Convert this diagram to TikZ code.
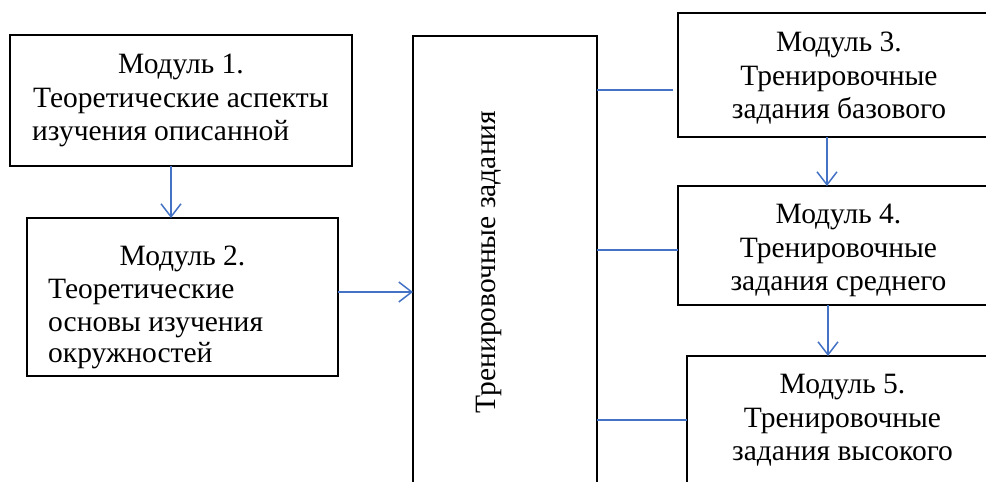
\documentclass[tikz,border=0pt]{standalone}
\usepackage{fontspec}
\setmainfont{Liberation Serif}
\usetikzlibrary{arrows.meta}
\definecolor{lnblue}{RGB}{68,114,196}
\begin{document}
\begin{tikzpicture}[x=1pt,y=-1pt,
  box/.style={draw=black, line width=2pt, rectangle, inner sep=0pt, outer sep=0pt},
  txt/.style={font=\fontsize{29.5}{34}\selectfont, inner sep=0pt},
  conn/.style={draw=lnblue, line width=1.5pt},
  arr/.style={conn, -{Straight Barb[length=13pt,width=20pt]}}]
\useasboundingbox (0,0) rectangle (986,482);
% boxes
\node[box, minimum width=342pt, minimum height=131pt] (b1) at (181,100.5) {};
\node[box, minimum width=311pt, minimum height=158pt] (b2) at (182.5,297) {};
\node[box, minimum width=184pt, minimum height=494pt] (tb) at (505,283) {};
\node[box, minimum width=320pt, minimum height=124pt] (b3) at (838,75) {};
\node[box, minimum width=320pt, minimum height=119pt] (b4) at (838,245.5) {};
\node[box, minimum width=310pt, minimum height=164pt] (b5) at (842,438) {};
% texts
\node[txt, anchor=base] (t1a) at (181,73) {Модуль 1.};
\node[txt, anchor=base west] (t1b) at (33,107) {Теоретические аспекты};
\node[txt, anchor=base west] (t1c) at (32,140) {изучения описанной};
\node[txt, anchor=base] (t2a) at (182.5,265) {Модуль 2.};
\node[txt, anchor=base west] (t2b) at (48,298) {Теоретические};
\node[txt, anchor=base west] (t2c) at (48,331) {основы изучения};
\node[txt, anchor=base west] (t2d) at (48,362) {окружностей};
\node[txt, rotate=90, anchor=base] (tt) at (495,262) {Тренировочные задания};
\node[txt, anchor=base] (t3a) at (839,51) {Модуль 3.};
\node[txt, anchor=base] (t3b) at (839,85) {Тренировочные};
\node[txt, anchor=base] (t3c) at (839,118) {задания базового};
\node[txt, anchor=base] (t4a) at (838.5,223) {Модуль 4.};
\node[txt, anchor=base] (t4b) at (838.5,257) {Тренировочные};
\node[txt, anchor=base] (t4c) at (838.5,290) {задания среднего};
\node[txt, anchor=base] (t5a) at (842.5,393) {Модуль 5.};
\node[txt, anchor=base] (t5b) at (842.5,427) {Тренировочные};
\node[txt, anchor=base] (t5c) at (842.5,460) {задания высокого};
% connectors
\coordinate (a1) at ([xshift=-10pt]b1.south);
\draw[arr] (a1) -- (a1 |- b2.north);
\coordinate (a2) at ([yshift=5pt]b2.east);
\draw[arr] (a2) -- (a2 -| tb.west);
\coordinate (y1) at (0,90);
\coordinate (y2) at (0,250);
\coordinate (y3) at (0,420);
\coordinate (l1) at (tb.east |- y1);
\coordinate (l2) at (tb.east |- y2);
\coordinate (l3) at (tb.east |- y3);
\draw[conn, shorten >=5pt] (l1) -- (l1 -| b3.west);
\draw[conn] (l2) -- (l2 -| b4.west);
\draw[conn] (l3) -- (l3 -| b5.west);
\coordinate (a3) at ([xshift=-11pt]b3.south);
\draw[arr] (a3) -- (a3 |- b4.north);
\coordinate (a4) at ([xshift=-10pt]b4.south);
\draw[arr] (a4) -- (a4 |- b5.north);
\end{tikzpicture}
\end{document}
